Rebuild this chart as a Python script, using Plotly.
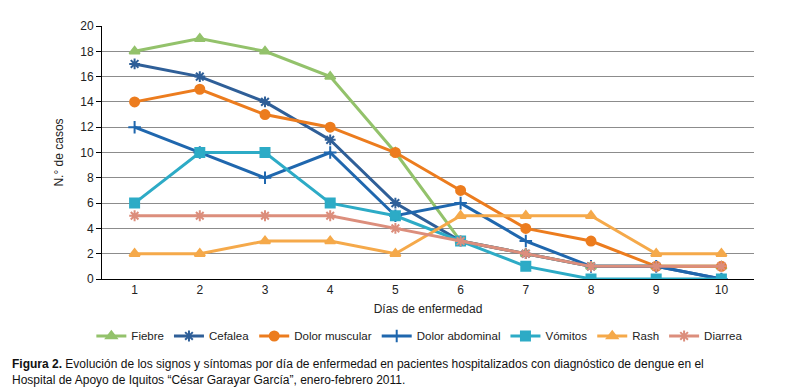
import plotly.graph_objects as go

days = [1, 2, 3, 4, 5, 6, 7, 8, 9, 10]
fiebre = [18, 19, 18, 16, 10, 3, 2, 1, 1, 1]
cefalea = [17, 16, 14, 11, 6, 3, 2, 1, 1, 0]
dolor_muscular = [14, 15, 13, 12, 10, 7, 4, 3, 1, 1]
dolor_abdominal = [12, 10, 8, 10, 5, 6, 3, 1, 1, 0]
vomitos = [6, 10, 10, 6, 5, 3, 1, 0, 0, 0]
rash = [2, 2, 3, 3, 2, 5, 5, 5, 2, 2]
diarrea = [5, 5, 5, 5, 4, 3, 2, 1, 1, 1]
y_ticks = [0, 2, 4, 6, 8, 10, 12, 14, 16, 18, 20]

series = [
    ("Fiebre", fiebre, "#93C26B", "triangle-up", 9),
    ("Cefalea", cefalea, "#2F5F98", "asterisk-open", 9),
    ("Dolor muscular", dolor_muscular, "#EC7C1E", "circle", 9),
    ("Dolor abdominal", dolor_abdominal, "#1F67AE", "cross-thin-open", 9),
    ("Vómitos", vomitos, "#2DABC6", "square", 9),
    ("Rash", rash, "#F5A94A", "triangle-up", 9),
    ("Diarrea", diarrea, "#DC8E7C", "asterisk-open", 9),
]

fig = go.Figure()
for name, vals, color, sym, size in series:
    fig.add_trace(go.Scatter(
        x=days, y=vals, name=name, mode="lines+markers",
        line=dict(color=color, width=3),
        marker=dict(symbol=sym, size=size, color=color,
                    line=dict(color=color, width=2)),
    ))

fig.update_layout(
    width=789, height=390,
    margin=dict(l=94, r=43, t=18, b=119, autoexpand=False),
    paper_bgcolor="white", plot_bgcolor="white",
    font=dict(family="Liberation Sans, Arial, sans-serif", size=12, color="#222"),
    showlegend=True,
    legend=dict(orientation="h", xref="container", yref="container",
                x=0.522, xanchor="center", y=0.159, yanchor="middle",
                font=dict(size=11.5), itemwidth=30, tracegroupgap=0),
)
fig.update_xaxes(
    range=[0.5, 10.5], tickmode="array", tickvals=days, ticktext=[str(d) for d in days],
    showgrid=False, zeroline=False, showline=True, linecolor="black", linewidth=1,
    ticks="", tickfont=dict(size=12), automargin=False,
    title=dict(text="Días de enfermedad", font=dict(size=12), standoff=8),
)
fig.update_yaxes(
    range=[0, 20], tickvals=y_ticks, showgrid=True, gridcolor="#8C8C8C", gridwidth=1,
    zeroline=False, showline=True, linecolor="black", linewidth=1,
    ticks="outside", ticklen=5, tickcolor="black", tickfont=dict(size=12),
    automargin=False,
    title=dict(text="N.° de casos", font=dict(size=12), standoff=14),
)

fig.add_annotation(
    xref="paper", yref="paper", x=-0.141, y=-0.301, xanchor="left", yanchor="top",
    showarrow=False, align="left",
    text=("<b>Figura 2.</b> Evolución de los signos y síntomas por día de enfermedad en pacientes hospitalizados con diagnóstico de dengue en el"
          "<br>Hospital de Apoyo de Iquitos “César Garayar García”, enero-febrero 2011."),
    font=dict(size=12, color="#111"),
)

fig.write_html("out.html")
